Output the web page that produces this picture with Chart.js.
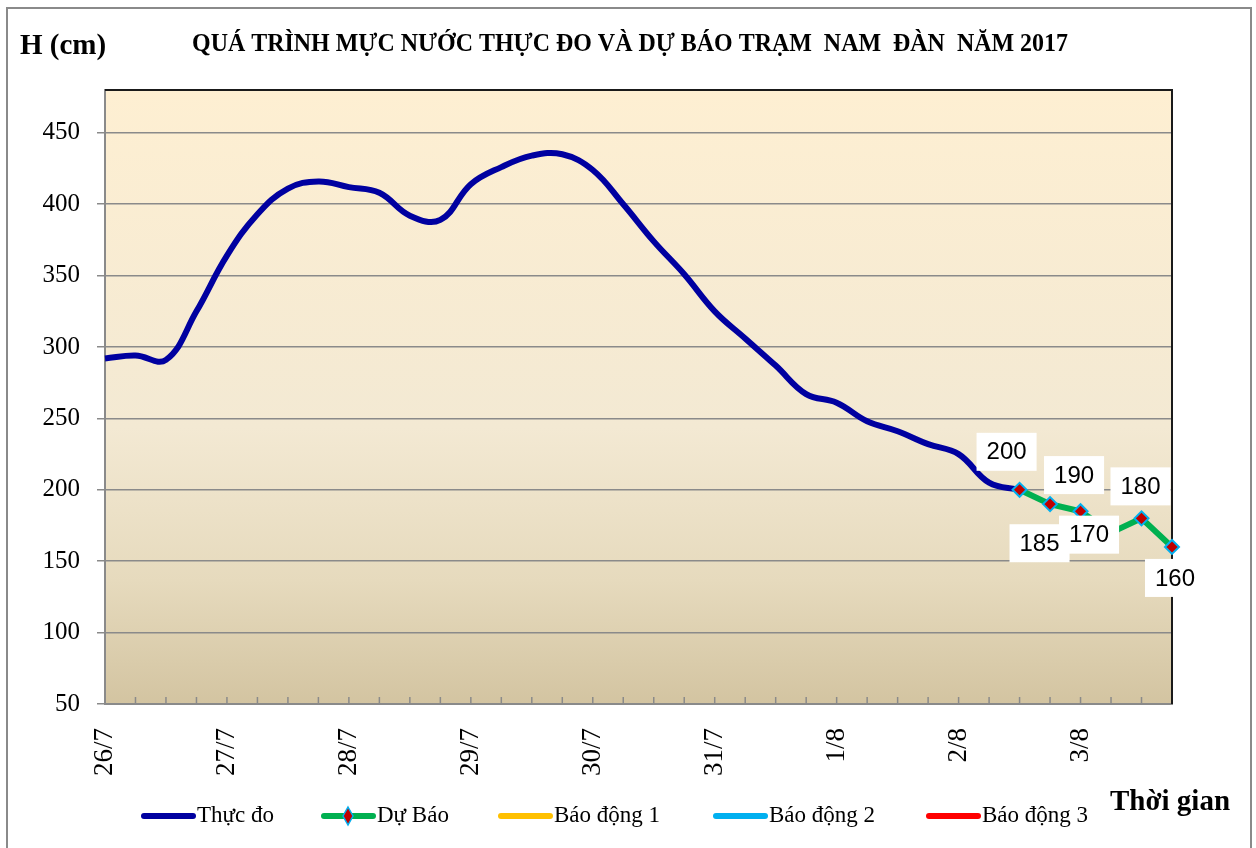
<!DOCTYPE html>
<html>
<head>
<meta charset="utf-8">
<script src="https://cdn.jsdelivr.net/npm/chart.js@4/dist/chart.umd.min.js"></script>
<style>
  html, body { margin: 0; padding: 0; background: #fff; }
  #wrap { width: 1256px; height: 848px; }
</style>
</head>
<body>
<div id="wrap"><canvas id="chart-area" width="1256" height="848"></canvas></div>
<script>
// ---- data ----
var dayLabels = ['26/7', '27/7', '28/7', '29/7', '30/7', '31/7', '1/8', '2/8', '3/8'];
var hourLabels = ['1h', '7h', '13h', '19h'];

// Thuc do: 6-hourly observed levels (cm), 26/7 1h .. 2/8 13h
var observed = [292, 294, 291, 325, 364, 393, 411, 416, 412, 408, 392, 389, 414, 426, 434, 435,
                424, 400, 374, 351, 325, 306, 287, 267, 261, 248, 241, 232, 225, 205, 200];
// Du bao: forecast from 2/8 13h
var forecast = [200, 190, 185, 170, 180, 160];
var forecastStart = 30;

// alarm levels (off the visible range in this picture)
var alarm1 = [];
var alarm2 = [];
var alarm3 = [];

var yTicks = [50, 100, 150, 200, 250, 300, 350, 400, 450];

// ---- build categories / series ----
var categories = [];
dayLabels.forEach(function(d) {
  hourLabels.forEach(function(h) { categories.push(h + ' ' + d); });
});
var nPoints = forecastStart + forecast.length;
categories = categories.slice(0, nPoints);

var obsSeries = categories.map(function(c, i) { return i < observed.length ? observed[i] : null; });
var fcSeries = categories.map(function(c, i) {
  return i >= forecastStart ? forecast[i - forecastStart] : null;
});

var serif = "'Liberation Serif', 'Times New Roman', serif";
var sans = "'Liberation Sans', Arial, sans-serif";

var labelOffsets = [[-13, -37], [24, -28], [-41, 33], [-22, 3], [-1, -31], [3, 32]];

var framePlugin = {
  id: 'frame',
  beforeDraw: function(chart) {
    var ctx = chart.ctx, a = chart.chartArea;
    ctx.save();
    ctx.fillStyle = '#fff';
    ctx.fillRect(0, 0, chart.width, chart.height);
    ctx.strokeStyle = '#8a8a8a';
    ctx.lineWidth = 2;
    ctx.strokeRect(7, 8, 1244, 900);
    var g = ctx.createLinearGradient(0, a.top, 0, a.bottom);
    g.addColorStop(0, '#FEEFD2');
    g.addColorStop(0.55, '#F3E9D3');
    g.addColorStop(0.8, '#E6DABD');
    g.addColorStop(1, '#D3C4A1');
    ctx.fillStyle = g;
    ctx.fillRect(a.left, a.top, a.right - a.left, a.bottom - a.top);
    ctx.restore();
  },
  beforeDatasetsDraw: function(chart) {
    var ctx = chart.ctx, a = chart.chartArea, xs = chart.scales.x;
    ctx.save();
    ctx.strokeStyle = '#8a8a8a';
    ctx.lineWidth = 1.5;
    for (var i = 1; i < categories.length; i++) {
      var x = xs.getPixelForValue(i);
      ctx.beginPath();
      ctx.moveTo(x, a.bottom);
      ctx.lineTo(x, a.bottom - 7);
      ctx.stroke();
    }
    ctx.strokeStyle = '#1a1a1a';
    ctx.lineWidth = 2;
    ctx.beginPath();
    ctx.moveTo(a.left, a.top);
    ctx.lineTo(a.right, a.top);
    ctx.lineTo(a.right, a.bottom);
    ctx.stroke();
    ctx.restore();
  },
  afterDatasetsDraw: function(chart) {
    var ctx = chart.ctx;
    var meta = chart.getDatasetMeta(1);
    ctx.save();
    ctx.font = '24px ' + sans;
    ctx.textAlign = 'center';
    ctx.textBaseline = 'middle';
    var k = 0;
    meta.data.forEach(function(el, i) {
      var v = fcSeries[i];
      if (v === null) return;
      var off = labelOffsets[k++] || [0, -30];
      var cx = el.x + off[0], cy = el.y + off[1];
      var txt = String(v);
      var w = ctx.measureText(txt).width + 20;
      ctx.fillStyle = '#fff';
      ctx.fillRect(cx - w / 2, cy - 20, w, 38);
      ctx.fillStyle = '#000';
      ctx.fillText(txt, cx, cy);
    });
    ctx.restore();
  },
  afterDraw: function(chart) {
    var ctx = chart.ctx;
    ctx.save();
    ctx.fillStyle = '#000';
    ctx.textBaseline = 'middle';
    // title, slightly condensed
    ctx.font = 'bold 26px ' + serif;
    var title = 'QUÁ TRÌNH MỰC NƯỚC THỰC ĐO VÀ DỰ BÁO TRẠM  NAM  ĐÀN  NĂM 2017';
    var tw = ctx.measureText(title).width;
    ctx.save();
    ctx.translate(192, 44);
    ctx.scale(876 / tw, 1);
    ctx.textAlign = 'left';
    ctx.fillText(title, 0, 0);
    ctx.restore();
    ctx.font = 'bold 29px ' + serif;
    ctx.textAlign = 'left';
    ctx.fillText('H (cm)', 20, 47);
    ctx.fillText('Thời gian', 1110, 803);

    // legend
    var items = [
      { x: 141, ds: 0 },
      { x: 321, ds: 1, marker: true },
      { x: 498, ds: 2 },
      { x: 713, ds: 3 },
      { x: 926, ds: 4 }
    ];
    var ly = 816;
    ctx.font = '23px ' + serif;
    items.forEach(function(it) {
      var ds = chart.data.datasets[it.ds];
      ctx.strokeStyle = ds.borderColor;
      ctx.lineWidth = 6;
      ctx.lineCap = 'round';
      ctx.beginPath();
      ctx.moveTo(it.x + 3, ly);
      ctx.lineTo(it.x + 52, ly);
      ctx.stroke();
      if (it.marker) {
        var mx = it.x + 27;
        ctx.beginPath();
        ctx.moveTo(mx, ly - 9);
        ctx.lineTo(mx + 5, ly);
        ctx.lineTo(mx, ly + 9);
        ctx.lineTo(mx - 5, ly);
        ctx.closePath();
        ctx.fillStyle = ds.pointBackgroundColor;
        ctx.fill();
        ctx.lineWidth = 1.5;
        ctx.strokeStyle = ds.pointBorderColor;
        ctx.stroke();
      }
      ctx.fillStyle = '#000';
      ctx.fillText(ds.label, it.x + 56, ly);
    });
    ctx.restore();
  }
};

var config = {
  type: 'line',
  data: {
    labels: categories,
    datasets: [{
      label: 'Thực đo',
      data: obsSeries,
      borderColor: '#0000A0',
      backgroundColor: '#0000A0',
      borderWidth: 6,
      pointRadius: 0,
      tension: 0.4,
      order: 2
    }, {
      label: 'Dự Báo',
      data: fcSeries,
      borderColor: '#00B050',
      backgroundColor: '#00B050',
      borderWidth: 6,
      pointStyle: 'rectRot',
      pointRadius: 7,
      pointBorderWidth: 2,
      pointBackgroundColor: '#C00000',
      pointBorderColor: '#00B0F0',
      tension: 0,
      order: 1
    }, {
      label: 'Báo động 1',
      data: alarm1,
      borderColor: '#FFC000',
      borderWidth: 6,
      pointRadius: 0
    }, {
      label: 'Báo động 2',
      data: alarm2,
      borderColor: '#00B0F0',
      borderWidth: 6,
      pointRadius: 0
    }, {
      label: 'Báo động 3',
      data: alarm3,
      borderColor: '#FF0000',
      borderWidth: 6,
      pointRadius: 0
    }]
  },
  options: {
    responsive: false,
    animation: false,
    layout: { padding: { left: 0, top: 90, right: 84, bottom: 0 } },
    plugins: {
      legend: { display: false },
      title: { display: false },
      tooltip: { enabled: false }
    },
    scales: {
      x: {
        offset: false,
        grid: { display: false, drawTicks: false, tickLength: 0 },
        border: { display: true, color: '#8a8a8a', width: 2 },
        ticks: {
          autoSkip: false,
          maxRotation: 90,
          minRotation: 90,
          padding: 24,
          color: '#000',
          font: { family: serif, size: 27 },
          callback: function(v, i) {
            return i % hourLabels.length === 0 ? dayLabels[i / hourLabels.length] : '';
          }
        },
        afterFit: function(s) { s.height = 144; }
      },
      y: {
        min: 50,
        max: 480,
        grid: { color: '#8a8a8a', lineWidth: 1.5, tickLength: 8, drawTicks: true },
        border: { display: true, color: '#8a8a8a', width: 2 },
        ticks: {
          stepSize: 50,
          padding: 17,
          color: '#000',
          font: { family: serif, size: 25 }
        },
        afterBuildTicks: function(s) {
          s.ticks = yTicks.map(function(v) { return { value: v }; });
        },
        afterFit: function(s) { s.width = 105; }
      }
    }
  },
  plugins: [framePlugin]
};

window.onload = function() {
  var ctx = document.getElementById('chart-area').getContext('2d');
  window.myLine = new Chart(ctx, config);
};
</script>
</body>
</html>
